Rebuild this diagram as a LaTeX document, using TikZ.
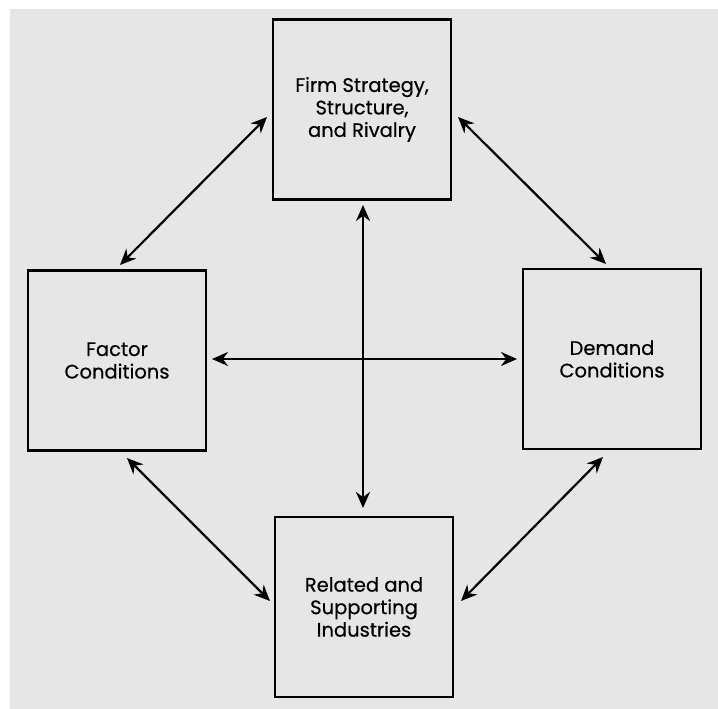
\documentclass[tikz,border=0pt]{standalone}
\usepackage{fontspec}
\setmainfont{Poppins}
\newfontfamily\boxfont{Poppins}[FakeBold=0.6]
\usetikzlibrary{arrows.meta}
\definecolor{bg}{HTML}{E6E6E6}
\begin{document}
\begin{tikzpicture}[x=1pt,y=-1pt,
  box/.style={draw=black, line width=2.6pt, fill=bg, minimum width=178pt, minimum height=180pt,
    align=center, inner sep=0pt, font=\boxfont\fontsize{19.5}{22.5}\selectfont},
  link/.style={line width=2.2pt, {Stealth[length=16pt,width=14pt]}-{Stealth[length=16pt,width=14pt]}}]
\fill[white] (0,0) rectangle (718,709);
\fill[bg] (10,9) rectangle (718,709);
\useasboundingbox (0,0) rectangle (718,709);
\node[box] (firm) at (362,109.5) {Firm Strategy,\\Structure,\\and Rivalry};
\node[box] (factor) at (117,360.5) {Factor\\Conditions};
\node[box] (demand) at (612,359) {Demand\\Conditions};
\node[box] (related) at (364,607) {Related and\\Supporting\\Industries};
\coordinate (fl) at (267,117);
\coordinate (fr) at (458,117);
\coordinate (ft) at (120,265);
\coordinate (fb) at (127,458);
\coordinate (dt) at (606,264);
\coordinate (db) at (603,457);
\coordinate (rl) at (270,601);
\coordinate (rr) at (461,601);
\coordinate (vt) at (363,205);
\coordinate (vb) at (363,508);
\coordinate (hl) at (212,359);
\coordinate (hr) at (517,359);
\draw[link] (fl) -- (ft);
\draw[link] (fr) -- (dt);
\draw[link] (fb) -- (rl);
\draw[link] (db) -- (rr);
\draw[link] (vt) -- (vb);
\draw[link] (hl) -- (hr);
\end{tikzpicture}
\end{document}
